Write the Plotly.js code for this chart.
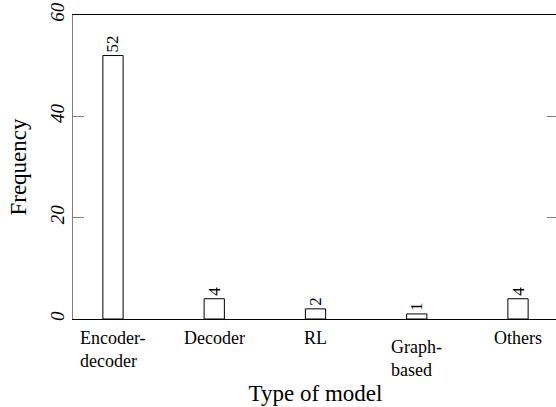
<!DOCTYPE html>
<html>
<head>
<meta charset="utf-8">
<script src="https://cdn.plot.ly/plotly-3.0.1.min.js"></script>
<style>
html, body { margin: 0; padding: 0; overflow: hidden; background: #fff; }
#chart { width: 558px; height: 407px; }
</style>
</head>
<body>
<div id="chart"></div>
<script>
var categories = ['Encoder-<br>decoder', 'Decoder', 'RL', 'Graph-<br>based', 'Others'];
var frequencies = [52, 4, 2, 1, 4];
var yTickValues = [0, 20, 40, 60];
var xTitle = 'Type of model';
var yTitle = 'Frequency';

var serif = 'Liberation Serif, Times New Roman, Times, serif';
var xIdx = categories.map(function (_, i) { return i; });
var labelFont = { family: serif, size: 17, color: '#000000', style: 'normal', weight: 'normal' };

var trace = {
  type: 'bar',
  x: xIdx,
  y: frequencies,
  width: 0.2,
  marker: { color: '#ffffff', line: { color: '#000000', width: 1 } },
  text: frequencies.map(String),
  textposition: 'outside',
  textangle: -90,
  constraintext: 'none',
  cliponaxis: false,
  textfont: labelFont,
  outsidetextfont: labelFont,
  hoverinfo: 'none'
};

var annotations = categories.map(function (c, i) {
  return {
    xref: 'x', yref: 'paper', x: i, y: 0,
    xanchor: 'center', yanchor: 'top', align: 'left',
    yshift: (i === 3 ? -16 : -7),
    text: c, showarrow: false,
    font: { family: serif, size: 18, color: '#000' }
  };
});

var layout = {
  width: 558, height: 407,
  margin: { l: 73, r: 0, t: 15, b: 88, pad: 0 },
  font: { family: serif, color: '#000000', size: 17 },
  paper_bgcolor: '#fff', plot_bgcolor: '#fff',
  showlegend: false,
  bargap: 0,
  xaxis: {
    range: [-0.395, 4.395],
    tickvals: xIdx, showticklabels: false,
    ticks: '', showgrid: false, zeroline: false,
    showline: true, linecolor: '#000', linewidth: 1, mirror: true,
    title: { text: xTitle, standoff: 65, font: { family: serif, size: 23, color: '#000' } }
  },
  yaxis: {
    range: [0, 60],
    tickvals: yTickValues,
    ticks: 'inside', ticklen: 11, tickcolor: '#808080', tickwidth: 1,
    tickangle: -90,
    tickfont: { family: serif, size: 19, style: 'italic', color: '#000' },
    showgrid: false, zeroline: false,
    showline: true, linecolor: '#808080', linewidth: 1, mirror: 'ticks',
    title: { text: yTitle, standoff: 14, font: { family: serif, size: 23, color: '#000' } }
  },
  annotations: annotations
};

Plotly.newPlot('chart', [trace], layout, { displayModeBar: false, staticPlot: true });
</script>
</body>
</html>
